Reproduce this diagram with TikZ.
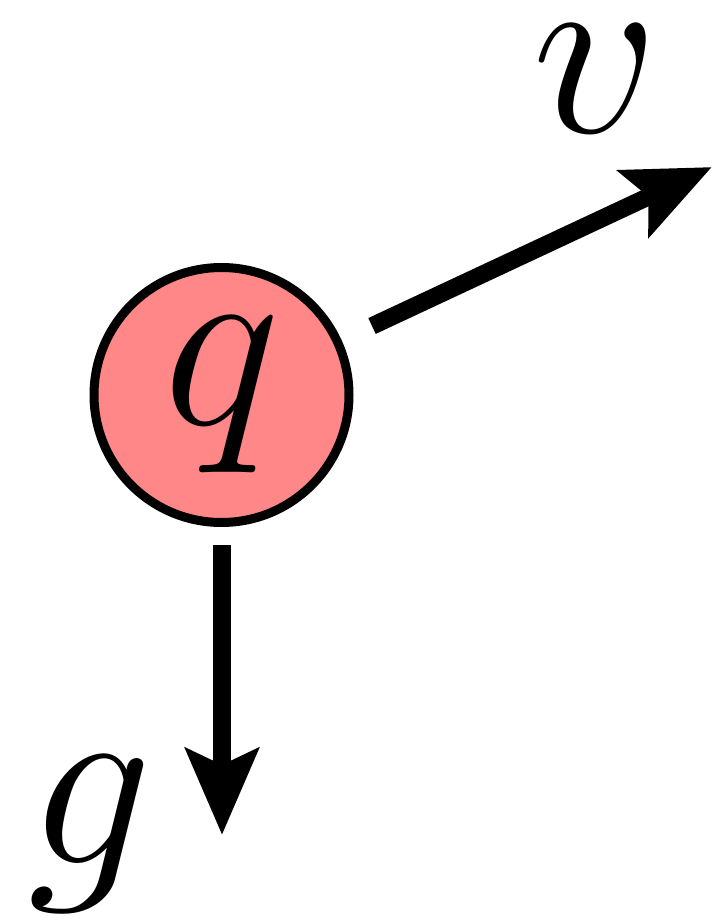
\documentclass[tikz,border=0pt]{standalone}
\usetikzlibrary{arrows.meta}
\definecolor{ballred}{HTML}{FF8787}
\begin{document}
\begin{tikzpicture}[x=0.1pt,y=-0.1pt,
  ball/.style={circle,draw=black,line width=0.9pt,fill=ballred,minimum size=25.5pt,inner sep=0pt,font=\fontsize{28.3}{30}\selectfont},
  lbl/.style={inner sep=0pt,font=\fontsize{28.3}{30}\selectfont},
  vec/.style={line width=1.75pt,-{Stealth[length=8.6pt,width=7.2pt,inset=1.6pt]}}]
\useasboundingbox (0,0) rectangle (712,922);
\node[ball] (q) at (221.5,395) {$q$};
\node[lbl] (v) at (596,79) {$v$};
\node[lbl] (g) at (90,834) {$g$};
\coordinate (vs) at (372,326);
\coordinate (vt) at (712,167);
\coordinate (gs) at (222,545);
\coordinate (gt) at (222,835);
\draw[vec] (vs) -- (vt);
\draw[vec] (gs) -- (gt);
\end{tikzpicture}
\end{document}
